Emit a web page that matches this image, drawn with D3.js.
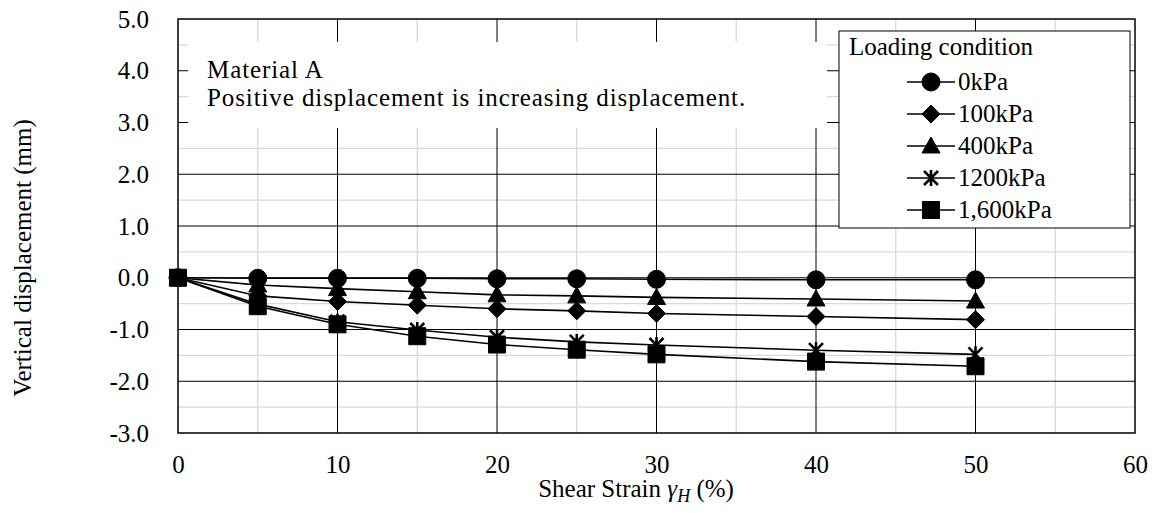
<!DOCTYPE html>
<html>
<head>
<meta charset="utf-8">
<script src="https://cdn.jsdelivr.net/npm/d3@7"></script>
<style>
  html, body { margin: 0; padding: 0; background: #fff; }
  svg text { font-family: "Liberation Serif", "Times New Roman", serif; fill: #000; }
</style>
</head>
<body>
<svg id="chart" width="1157" height="513"></svg>
<script>
// ---- data ----
const strains = [0, 5, 10, 15, 20, 25, 30, 40, 50];
const seriesNames = ["0kPa", "100kPa", "400kPa", "1200kPa", "1,600kPa"];
const markerTypes = ["circle", "diamond", "triangle", "asterisk", "square"];
const values0kPa    = [0, -0.01, -0.01, -0.01, -0.02, -0.02, -0.03, -0.04, -0.04];
const values100kPa  = [0, -0.35, -0.46, -0.53, -0.60, -0.64, -0.69, -0.75, -0.81];
const values400kPa  = [0, -0.14, -0.21, -0.27, -0.33, -0.35, -0.38, -0.41, -0.45];
const values1200kPa = [0, -0.51, -0.85, -1.01, -1.15, -1.24, -1.30, -1.40, -1.48];
const values1600kPa = [0, -0.55, -0.90, -1.13, -1.29, -1.39, -1.48, -1.62, -1.71];
const xTicks = [0, 10, 20, 30, 40, 50, 60];
const yTicks = [-3, -2, -1, 0, 1, 2, 3, 4, 5];
const xMinor = [5, 15, 25, 35, 45, 55];
const yMinor = [-2.5, -1.5, -0.5, 0.5, 1.5, 2.5, 3.5, 4.5];
const annotationLines = ["Material A", "Positive displacement is increasing displacement."];
const legendTitle = "Loading condition";

const allValues = [values0kPa, values100kPa, values400kPa, values1200kPa, values1600kPa];
const series = seriesNames.map((name, i) => ({
  name, marker: markerTypes[i],
  points: strains.map((s, j) => ({ x: s, y: allValues[i][j] }))
}));

// ---- layout ----
const svg = d3.select("#chart");
const L = 178, R = 1135, T = 19, B = 433;
const x = d3.scaleLinear().domain([0, 60]).range([L, R]);
const y = d3.scaleLinear().domain([-3, 5]).range([B, T]);

const FS = 25;
const SERIF = "Liberation Serif, Times New Roman, serif";

// minor grid
const g = svg.append("g");
g.selectAll(".xm").data(xMinor).join("line")
  .attr("x1", d => x(d)).attr("x2", d => x(d)).attr("y1", T).attr("y2", B)
  .attr("stroke", "#d9d9d9").attr("stroke-width", 1.3);
g.selectAll(".ym").data(yMinor).join("line")
  .attr("x1", L).attr("x2", R).attr("y1", d => y(d)).attr("y2", d => y(d))
  .attr("stroke", "#d9d9d9").attr("stroke-width", 1.3);
// major grid
g.selectAll(".xM").data(xTicks.filter(d => d > 0 && d < 60)).join("line")
  .attr("x1", d => x(d)).attr("x2", d => x(d)).attr("y1", T).attr("y2", B)
  .attr("stroke", "#000").attr("stroke-width", 1);
g.selectAll(".yM").data(yTicks.filter(d => d > -3 && d < 5)).join("line")
  .attr("x1", L).attr("x2", R).attr("y1", d => y(d)).attr("y2", d => y(d))
  .attr("stroke", "#000").attr("stroke-width", 1);

// annotation box (white, covers grid)
svg.append("rect").attr("x", 188).attr("y", 42).attr("width", 827 - 188).attr("height", 128 - 42)
  .attr("fill", "#fff");
annotationLines.forEach((t, i) => {
  svg.append("text").attr("x", 207).attr("y", 77.5 + i * 28)
    .attr("font-size", FS).attr("letter-spacing", 0.9).attr("font-family", SERIF).text(t);
});

// plot border
svg.append("rect").attr("x", L).attr("y", T).attr("width", R - L).attr("height", B - T)
  .attr("fill", "none").attr("stroke", "#000").attr("stroke-width", 1.5);

// axes (labels only)
const fmtY = d => d3.format(".1f")(d).replace("\u2212", "-");
const yAxis = d3.axisLeft(y).tickValues(yTicks).tickFormat(fmtY).tickSize(0).tickPadding(29);
const ya = svg.append("g").attr("transform", `translate(${L},0)`).call(yAxis)
  .attr("font-family", SERIF).attr("font-size", FS);
ya.select(".domain").remove();
ya.selectAll("text").attr("fill", "#000");

const xAxis = d3.axisBottom(x).tickValues(xTicks).tickFormat(d3.format("d")).tickSize(0).tickPadding(22);
const xa = svg.append("g").attr("transform", `translate(0,${B})`).call(xAxis)
  .attr("font-family", SERIF).attr("font-size", FS);
xa.select(".domain").remove();
xa.selectAll("text").attr("fill", "#000");

// axis titles
const xt = svg.append("text").attr("x", 636).attr("y", 497).attr("text-anchor", "middle")
  .attr("font-size", FS).attr("font-family", SERIF);
xt.append("tspan").text("Shear Strain ");
xt.append("tspan").attr("font-style", "italic").text("γ");
xt.append("tspan").attr("font-style", "italic").attr("font-size", 18).attr("dy", 5).text("H");
xt.append("tspan").attr("dy", -5).text(" (%)");

svg.append("text").attr("transform", "translate(31,258) rotate(-90)")
  .attr("text-anchor", "middle").attr("font-size", FS).attr("font-family", SERIF)
  .text("Vertical displacement (mm)");

// markers
function markerPath(type) {
  const p = d3.path();
  if (type === "circle") { p.arc(0, 0, 9, 0, 2 * Math.PI); }
  else if (type === "square") { p.rect(-8.5, -8.5, 17, 17); }
  else if (type === "diamond") { p.moveTo(0, -9); p.lineTo(9, 0); p.lineTo(0, 9); p.lineTo(-9, 0); p.closePath(); }
  else if (type === "triangle") { p.moveTo(0, -9); p.lineTo(9, 7); p.lineTo(-9, 7); p.closePath(); }
  else if (type === "asterisk") {
    p.moveTo(-7, -7); p.lineTo(7, 7); p.moveTo(7, -7); p.lineTo(-7, 7); p.moveTo(0, -8); p.lineTo(0, 8);
  }
  return p.toString();
}
function drawMarker(sel, type) {
  sel.append("path").attr("d", markerPath(type))
    .attr("fill", type === "asterisk" ? "none" : "#000")
    .attr("stroke", "#000").attr("stroke-width", type === "asterisk" ? 2.6 : 1);
}

const line = d3.line().x(d => x(d.x)).y(d => y(d.y));
const sg = svg.append("g");
series.forEach(s => {
  sg.append("path").datum(s.points).attr("d", line)
    .attr("fill", "none").attr("stroke", "#000").attr("stroke-width", 1.6);
});
series.forEach(s => {
  s.points.forEach(pt => {
    const m = sg.append("g").attr("transform", `translate(${x(pt.x)},${y(pt.y)})`);
    drawMarker(m, s.marker);
  });
});

// legend
const lg = svg.append("g");
lg.append("rect").attr("x", 839).attr("y", 31).attr("width", 1130 - 839).attr("height", 228 - 31)
  .attr("fill", "#fff").attr("stroke", "#000").attr("stroke-width", 1);
lg.append("text").attr("x", 849).attr("y", 55).attr("font-size", FS).attr("font-family", SERIF).text(legendTitle);
series.forEach((s, i) => {
  const cy = 82 + i * 32;
  lg.append("line").attr("x1", 907).attr("x2", 955).attr("y1", cy).attr("y2", cy)
    .attr("stroke", "#000").attr("stroke-width", 1.6);
  const m = lg.append("g").attr("transform", `translate(931,${cy})`);
  drawMarker(m, s.marker);
  lg.append("text").attr("x", 958).attr("y", cy + 8).attr("font-size", FS).attr("font-family", SERIF).text(s.name);
});
</script>
</body>
</html>
